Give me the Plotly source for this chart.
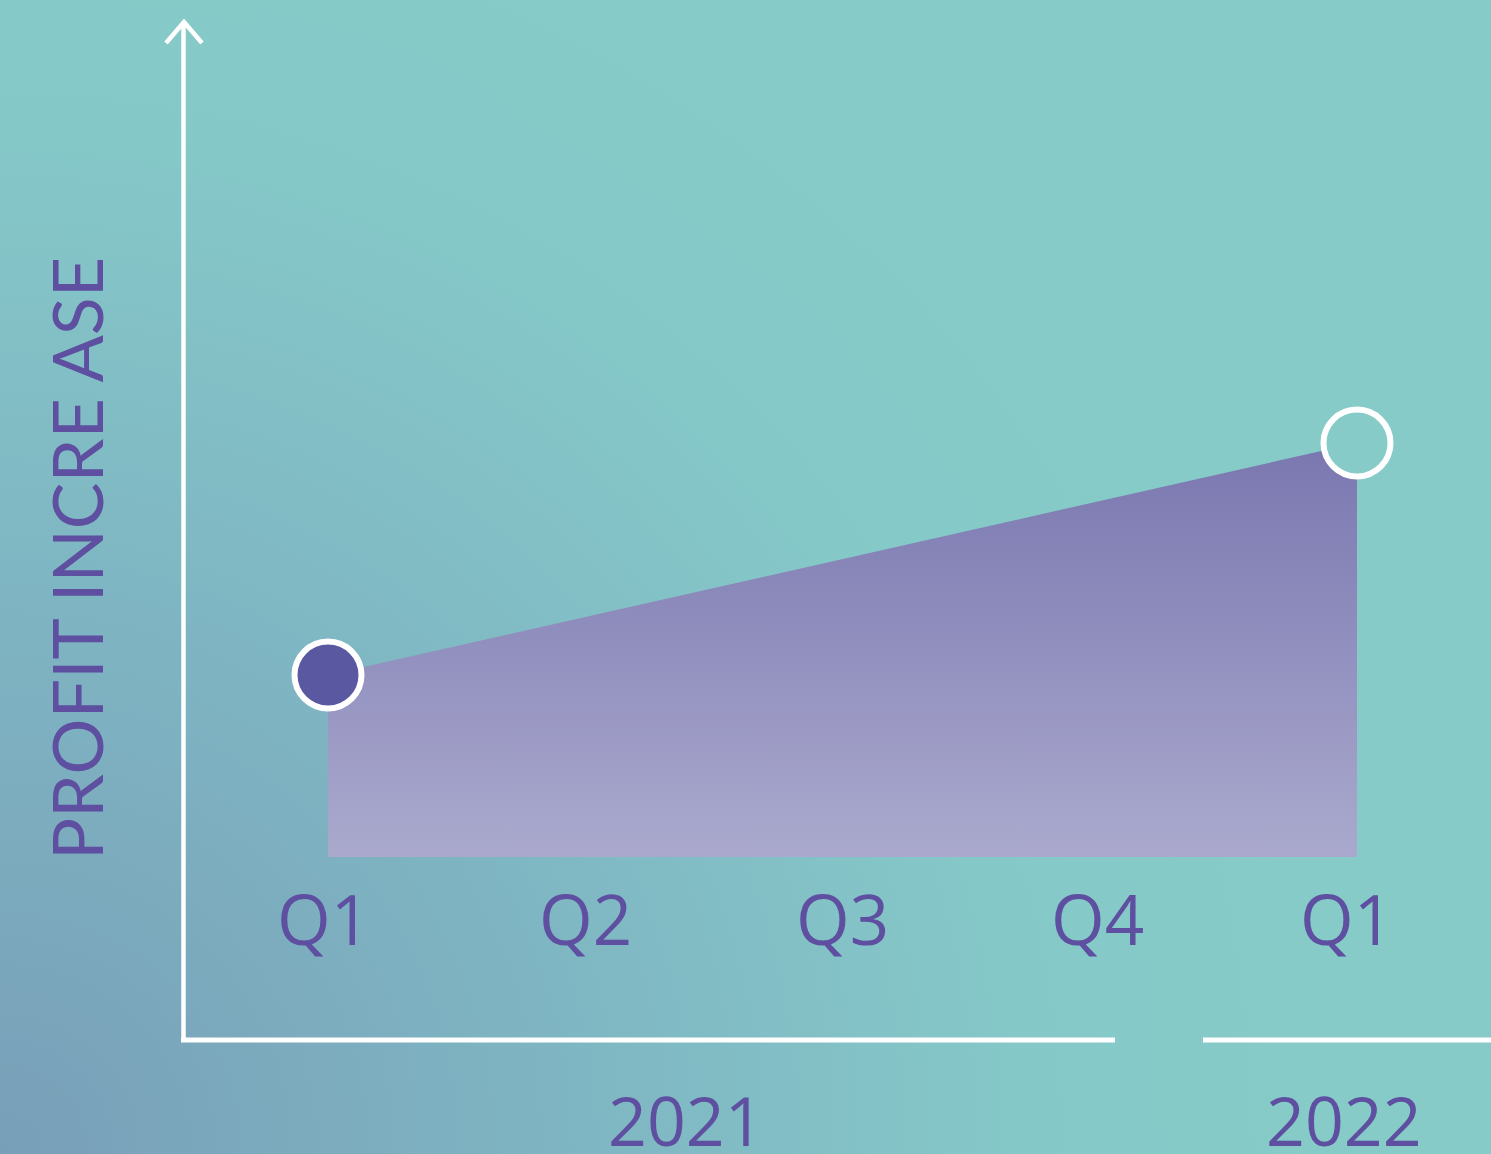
import plotly.graph_objects as go

W, H = 1491, 1154

# Chart data
quarters = ["Q1", "Q2", "Q3", "Q4", "Q1"]
profit = [1.82, 2.40, 2.98, 3.56, 4.14]
years = ["2021", "2022"]
year_pos = [1.39, 3.95]          # centre of each year label, in quarter-index units
y_title = "PROFIT INCRE ASE"

# small horizontal nudges (px) for the quarter labels
label_nudge = [-5, 0, 0, -2, -11]

TEXT = "#5E4FA0"
BG = "#86CBC8"
WHITE = "#FFFFFF"


def px(x):
    return x / W


def py(y):
    return 1 - y / H


idx = list(range(len(quarters)))
fig = go.Figure()

# soft radial backdrop, brightest away from the lower-left corner (pixel-space axes)
R = 1300
fig.add_trace(go.Scatter(
    x=[-R, R, R, -R, -R], y=[-R, -R, R, R, -R],
    fill="toself", mode="lines", line=dict(width=0),
    fillgradient=dict(type="radial",
                      colorscale=[[0, "#789FB8"], [0.45, "#7FB6C3"],
                                  [0.78, "#85C8C8"], [1, BG]]),
    hoverinfo="skip", showlegend=False, xaxis="x", yaxis="y",
))

# profit area with vertical gradient
fig.add_trace(go.Scatter(
    x=[idx[0]] + idx + [idx[-1]], y=[0] + profit + [0],
    fill="toself", mode="lines", line=dict(width=0),
    fillgradient=dict(type="vertical", start=0, stop=max(profit),
                      colorscale=[[0, "#AAA9CD"], [1, "#7A77B0"]]),
    hoverinfo="skip", showlegend=False, xaxis="x2", yaxis="y2",
))

# start and end markers
fig.add_trace(go.Scatter(
    x=[idx[0]], y=[profit[0]], mode="markers",
    marker=dict(size=67, color="#5A58A0", line=dict(color=WHITE, width=6)),
    hoverinfo="skip", showlegend=False, xaxis="x2", yaxis="y2", cliponaxis=False,
))
fig.add_trace(go.Scatter(
    x=[idx[-1]], y=[profit[-1]], mode="markers",
    marker=dict(size=67, color=BG, line=dict(color=WHITE, width=6)),
    hoverinfo="skip", showlegend=False, xaxis="x2", yaxis="y2", cliponaxis=False,
))

# axis lines and arrow head
line_w = 4.5
shapes = [
    dict(type="line", x0=px(183.5), x1=px(183.5), y0=py(22), y1=py(1041),
         line=dict(color=WHITE, width=line_w)),
    dict(type="path",
         path=f"M {px(166)},{py(43)} L {px(184)},{py(22)} L {px(202)},{py(43)}",
         line=dict(color=WHITE, width=line_w)),
    dict(type="line", x0=px(181), x1=px(1115), y0=py(1040), y1=py(1040),
         line=dict(color=WHITE, width=5)),
    dict(type="line", x0=px(1203), x1=px(1491), y0=py(1040), y1=py(1040),
         line=dict(color=WHITE, width=5)),
]
for s in shapes:
    s.update(xref="paper", yref="paper", layer="above")

annotations = []
for i, q, dx in zip(idx, quarters, label_nudge):
    annotations.append(dict(
        x=i, xref="x2", y=py(918), yref="paper", text=q, showarrow=False,
        xshift=dx, font=dict(family="Open Sans", size=69, color=TEXT),
        xanchor="center", yanchor="middle"))
for xp, yr in zip(year_pos, years):
    annotations.append(dict(
        x=xp, xref="x2", y=py(1119), yref="paper", text=yr, showarrow=False,
        height=64, valign="middle",
        font=dict(family="Open Sans", size=68, color=TEXT),
        xanchor="center", yanchor="middle"))
annotations.append(dict(
    x=px(76), xref="paper", y=py(559), yref="paper", text=y_title,
    showarrow=False, textangle=-90,
    font=dict(family="Lato", size=70, color=TEXT),
    xanchor="center", yanchor="middle"))

# quarter index 0 sits at 328 px, spacing 257.25 px; value 0 at 857 px, 100 px per unit
step = 257.25
x2_range = [-328 / step, (W - 328) / step]
y2_range = [-(H - 857) / 100, 857 / 100]

hidden = dict(visible=False, fixedrange=True, showgrid=False, zeroline=False)
fig.update_layout(
    width=W, height=H,
    margin=dict(l=0, r=0, t=0, b=0),
    paper_bgcolor=BG, plot_bgcolor=BG,
    xaxis=dict(range=[0, W], domain=[0, 1], **hidden),
    yaxis=dict(range=[0, H], domain=[0, 1], **hidden),
    xaxis2=dict(range=x2_range, overlaying="x", **hidden),
    yaxis2=dict(range=y2_range, overlaying="y", **hidden),
    shapes=shapes,
    annotations=annotations,
    showlegend=False,
)

fig.write_html("out.html", config=dict(displayModeBar=False))
